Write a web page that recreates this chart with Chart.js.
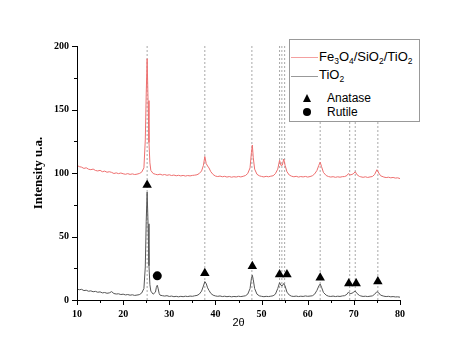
<!DOCTYPE html>
<html>
<head>
<meta charset="utf-8">
<script src="https://cdn.jsdelivr.net/npm/chart.js@4"></script>
<style>
  body { margin: 0; background: #fff; }
  #wrap { position: relative; width: 474px; height: 351px; }
  #legende { position: absolute; left: 289px; top: 39px; width: 129px; height: 81px; border: 1px solid #999; background: #fff; font-family: "Liberation Sans", Arial, sans-serif; color: #000; }
  .satir { position: absolute; white-space: nowrap; line-height: 1; }
  .satir sub { font-size: 0.65em; vertical-align: -0.3em; }
  .cizgi { position: absolute; left: 1px; width: 27px; height: 0; }
  .ucgen { position: absolute; width: 0; height: 0; border-left: 4.5px solid transparent; border-right: 4.5px solid transparent; border-bottom: 8px solid #000; }
  .daire { position: absolute; width: 8px; height: 8px; border-radius: 50%; background: #000; }
</style>
</head>
<body>
<div id="wrap">
  <canvas id="grafik" width="474" height="351"></canvas>
  <div id="legende">
    <div class="cizgi" style="top:17px; border-top:1px solid #f4a0a0;"></div>
    <div class="satir" style="left:29px; top:10px; font-size:13px;">Fe<sub>3</sub>O<sub>4</sub>/SiO<sub>2</sub>/TiO<sub>2</sub></div>
    <div class="cizgi" style="top:36px; border-top:1px solid #999;"></div>
    <div class="satir" style="left:29px; top:28px; font-size:13px;">TiO<sub>2</sub></div>
    <div class="ucgen" style="left:13px; top:54px;"></div>
    <div class="satir" style="left:37px; top:52px; font-size:12px;">Anatase</div>
    <div class="daire" style="left:13px; top:68px;"></div>
    <div class="satir" style="left:37px; top:66px; font-size:12px;">Rutile</div>
  </div>
</div>
<script>
// 2θ - yoğunluk okumaları
const tio2 = [
  [10,8.6],[10.5,8.1],[11,8.4],[11.5,7.4],[12,7.7],[12.5,6.9],[13,7.2],[13.5,6.5],[14,6.8],[14.5,6.1],
  [15,6.4],[15.5,5.6],[16,5.9],[16.5,5.3],[17,5.6],[17.5,6.6],[18,5.1],[18.5,4.7],[19,4.9],[19.5,4.3],
  [20,4.6],[20.5,4.0],[21,4.3],[21.5,3.8],[22,4.1],[22.5,3.6],[23,3.9],[23.5,4.2],[24,5.4],[24.5,9],
  [24.8,26],[25.0,62],[25.2,85],[25.4,60],[25.6,27],[25.8,12],[26.0,7],[26.5,4.6],[27.0,6.2],[27.2,10],
  [27.4,11.6],[27.6,8.8],[27.8,5.2],[28,3.8],[28.5,3.4],[29,3.1],[29.5,3.4],[30,2.8],[30.5,3.1],[31,2.6],
  [31.5,2.9],[32,2.5],[32.5,2.9],[33,2.6],[33.5,3.0],[34,2.7],[34.5,3.1],[35,2.9],[35.5,3.3],[36,3.6],
  [36.5,4.6],[37,7],[37.4,11],[37.7,14.5],[38.0,13],[38.3,9.6],[38.6,7.6],[39,5.2],[39.5,3.8],[40,3.2],
  [40.5,2.9],[41,3.2],[41.5,2.7],[42,3.0],[42.5,2.6],[43,2.9],[43.5,2.5],[44,2.8],[44.5,2.6],[45,3.0],
  [45.5,2.7],[46,3.0],[46.5,3.3],[47,4.6],[47.5,9],[47.8,17],[48.0,19.5],[48.2,16],[48.5,9],[49,4.6],
  [49.5,3.3],[50,2.9],[50.5,2.6],[51,2.9],[51.5,2.7],[52,3.0],[52.5,3.3],[53,4.6],[53.5,9],[53.9,13.6],
  [54.2,11.6],[54.5,11.2],[54.8,13],[55.1,11],[55.5,6.2],[56,3.9],[56.5,3.0],[57,2.8],[57.5,3.1],[58,2.7],
  [58.5,3.0],[59,2.8],[59.5,3.2],[60,2.9],[60.5,3.1],[61,3.3],[61.5,4.6],[62,7.6],[62.4,11],[62.7,12.6],
  [63,10],[63.4,6],[64,3.8],[64.5,3.0],[65,2.8],[65.5,3.1],[66,2.7],[66.5,3.0],[67,2.8],[67.5,3.2],
  [68,3.4],[68.5,4.5],[68.8,6.1],[69.2,5.1],[69.6,5.3],[70.0,6.3],[70.3,7],[70.7,5.1],[71.2,3.6],[71.5,3.2],
  [72,2.8],[72.5,3.0],[73,2.7],[73.5,3.0],[74,3.2],[74.5,4.5],[75,6.6],[75.4,5.6],[75.8,3.8],[76.5,3.0],
  [77,2.7],[77.5,2.9],[78,2.5],[78.5,2.7],[79,2.4],[79.5,2.5],[80,2.2]
];
const fe3o4SiO2TiO2 = [
  [10,106],[10.5,105],[11,104.6],[11.5,103.6],[12,104.1],[12.5,103],[13,102.6],[13.5,103.1],[14,102],[14.5,101.6],
  [15,102.1],[15.5,101],[16,101.5],[16.5,100.6],[17,101],[17.5,100.5],[18,99.6],[18.5,100.1],[19,99.5],[19.5,100],
  [20,99.4],[20.5,99],[21,99.5],[21.5,98.9],[22,99.3],[22.5,98.8],[23,99.1],[23.5,99.6],[24,100.6],[24.5,104],
  [24.8,126],[25.0,162],[25.2,190],[25.4,157],[25.6,124],[25.8,108],[26.0,102],[26.5,99.6],[27,99],[27.5,98.6],
  [28,99.1],[28.5,98.4],[29,98.8],[29.5,98.2],[30,98.6],[30.5,98],[31,98.4],[31.5,97.8],[32,98.2],[32.5,97.7],
  [33,98.1],[33.5,97.6],[34,98],[34.5,97.7],[35,98.1],[35.5,98.3],[36,98.6],[36.5,99.6],[37,101.6],[37.4,106],
  [37.7,113],[38.0,107.5],[38.3,105.5],[38.6,104],[39,101],[39.5,98.8],[40,97.6],[40.5,97.2],[41,97.6],[41.5,97],
  [42,97.4],[42.5,96.8],[43,97.2],[43.5,96.7],[44,97.1],[44.5,96.8],[45,97.3],[45.5,96.9],[46,97.4],[46.5,98],
  [47,99.6],[47.5,104],[47.8,116],[48.0,122],[48.2,112],[48.5,103],[49,99],[49.5,97.8],[50,97.3],[50.5,96.9],
  [51,97.4],[51.5,97],[52,97.5],[52.5,97.8],[53,99.5],[53.5,103],[53.9,110],[54.2,106],[54.5,106.2],[54.8,111],
  [55.1,106],[55.5,101],[56,98.4],[56.5,97.5],[57,97],[57.5,97.4],[58,96.8],[58.5,97.2],[59,96.9],[59.5,97.3],
  [60,96.8],[60.5,97.2],[61,97.8],[61.5,99.3],[62,102],[62.4,106],[62.7,108.5],[63,105],[63.4,100.5],[64,98],
  [64.5,97.2],[65,96.8],[65.5,97.1],[66,96.6],[66.5,97],[67,96.7],[67.5,97.1],[68,97.2],[68.5,98],[68.8,99.5],
  [69.2,98.6],[69.6,98.8],[70.0,99.8],[70.3,101],[70.7,98.6],[71.2,97.3],[71.5,97],[72,96.6],[72.5,97],[73,96.5],
  [73.5,96.9],[74,97.2],[74.5,98.8],[75,102.6],[75.4,100],[75.8,97.8],[76.5,96.8],[77,96.4],[77.5,96.7],[78,96.2],
  [78.5,96.5],[79,96],[79.5,96.2],[80,95.6]
];
// faz işaretleri
const anataz = [[25.2,90.5],[37.7,21],[48.0,26.5],[53.9,20],[55.5,20],[62.7,17.5],[68.9,13],[70.5,13],[75.2,14.5]];
const rutil = [[27.4,19]];
// kesikli referans çizgileri (2θ)
const referansAcilar = [25.2, 37.7, 47.9, 53.9, 54.4, 55.0, 62.7, 69.1, 70.3, 75.2];

const xMin = 10, xMax = 80, yMin = 0, yMax = 200;

const noktalar = arr => arr.map(([x, y]) => ({ x: x, y: y }));

let referansVeri = [];
referansAcilar.forEach(a => {
    referansVeri.push({ x: a, y: yMin }, { x: a, y: yMax }, { x: a, y: null });
});

// eksen çizgileri ve küçük/büyük tik işaretleri
const eksenEklentisi = {
    id: 'eksenler',
    afterDraw(chart) {
        const ctx = chart.ctx;
        const xs = chart.scales.x, ys = chart.scales.y;
        const sol = chart.chartArea.left, alt = chart.chartArea.bottom;
        ctx.save();
        ctx.strokeStyle = '#000';
        ctx.lineWidth = 1;
        ctx.beginPath();
        ctx.moveTo(sol + 0.5, chart.chartArea.top);
        ctx.lineTo(sol + 0.5, alt + 0.5);
        ctx.lineTo(chart.chartArea.right, alt + 0.5);
        for (let v = yMin; v <= yMax; v += 25) {
            const py = Math.round(ys.getPixelForValue(v)) + 0.5;
            const uz = v % 50 === 0 ? 5 : 3;
            ctx.moveTo(sol - uz, py);
            ctx.lineTo(sol, py);
        }
        for (let v = xMin; v <= xMax; v += 5) {
            const px = Math.round(xs.getPixelForValue(v)) + 0.5;
            const uz = v % 10 === 0 ? 5 : 3;
            ctx.moveTo(px, alt);
            ctx.lineTo(px, alt + uz);
        }
        ctx.stroke();
        ctx.restore();
    }
};

const tikFontu = { family: '"Liberation Serif", "Times New Roman", serif', size: 10, weight: 'bold' };

new Chart(document.getElementById('grafik'), {
    type: 'scatter',
    data: {
        datasets: [
            {
                label: 'Anatase', data: noktalar(anataz), pointStyle: 'triangle',
                pointRadius: 5.5, backgroundColor: '#000', borderColor: '#000', borderWidth: 0, order: 0
            },
            {
                label: 'Rutile', data: noktalar(rutil), pointStyle: 'circle',
                pointRadius: 4.5, backgroundColor: '#000', borderColor: '#000', borderWidth: 0, order: 0
            },
            {
                label: 'TiO2', data: noktalar(tio2), showLine: true, pointRadius: 0,
                borderColor: '#555', borderWidth: 1, tension: 0, order: 1
            },
            {
                label: 'Fe3O4/SiO2/TiO2', data: noktalar(fe3o4SiO2TiO2), showLine: true, pointRadius: 0,
                borderColor: '#ee6f6f', borderWidth: 1, tension: 0, order: 1
            },
            {
                label: 'referans', data: referansVeri, showLine: true, spanGaps: false, pointRadius: 0,
                borderColor: '#a8a8a8', borderWidth: 1, borderDash: [2, 2], order: 2
            }
        ]
    },
    options: {
        responsive: false,
        animation: false,
        events: [],
        layout: { padding: { top: 46, right: 74, left: 0, bottom: 0 } },
        plugins: { legend: { display: false }, tooltip: { enabled: false } },
        scales: {
            x: {
                type: 'linear', min: xMin, max: xMax,
                grid: { display: false, drawTicks: false },
                border: { display: false },
                ticks: { stepSize: 10, padding: 8, color: '#000', font: tikFontu },
                title: {
                    display: true, text: '2θ', color: '#000',
                    font: { family: '"Liberation Sans", Arial, sans-serif', size: 11 },
                    padding: { top: 0, bottom: 21 }
                },
                afterFit(scale) { scale.height = 51; }
            },
            y: {
                type: 'linear', min: yMin, max: yMax,
                grid: { display: false, drawTicks: false },
                border: { display: false },
                ticks: { stepSize: 50, padding: 8, color: '#000', font: tikFontu },
                title: {
                    display: true, text: 'Intensity u.a.', color: '#000',
                    font: { family: '"Liberation Serif", "Times New Roman", serif', size: 13, weight: 'bold' },
                    padding: { top: 31, bottom: 0 }
                },
                afterFit(scale) { scale.width = 77; }
            }
        }
    },
    plugins: [eksenEklentisi]
});
</script>
</body>
</html>
